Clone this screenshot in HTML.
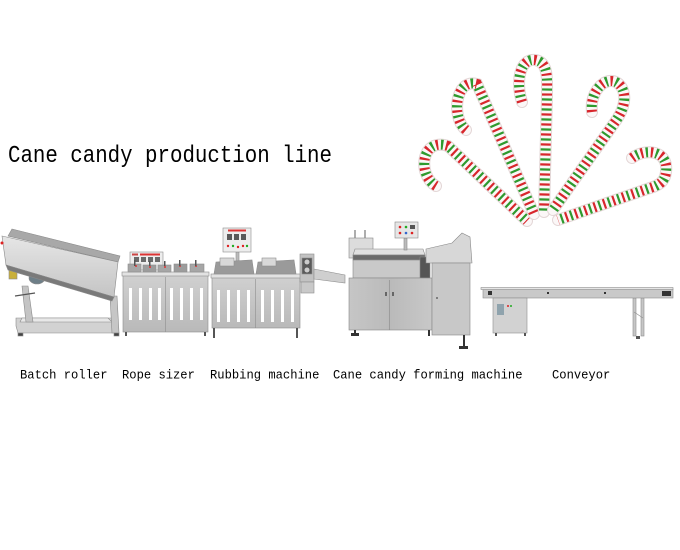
<!DOCTYPE html>
<html><head><meta charset="utf-8"><style>
html,body{margin:0;padding:0;background:#fff;}
body{width:680px;height:550px;position:relative;overflow:hidden;}
svg{position:absolute;left:0;top:0;}
</style></head><body>
<svg width="680" height="550" viewBox="0 0 680 550" xmlns="http://www.w3.org/2000/svg">
<defs>
<linearGradient id="cab" x1="0" y1="0" x2="0" y2="1"><stop offset="0" stop-color="#d0d0d0"/><stop offset="1" stop-color="#b9b9b9"/></linearGradient>
<linearGradient id="cab2" x1="0" y1="0" x2="1" y2="0"><stop offset="0" stop-color="#c6c6c6"/><stop offset="0.5" stop-color="#bababa"/><stop offset="1" stop-color="#c8c8c8"/></linearGradient>
<linearGradient id="trough" x1="0" y1="0" x2="0" y2="1"><stop offset="0" stop-color="#e6e6e6"/><stop offset="1" stop-color="#c4c4c4"/></linearGradient>
</defs>

<!-- Title -->
<text x="8" y="162" font-family="Liberation Mono, monospace" font-size="20.8" textLength="324" lengthAdjust="spacing" transform="translate(0,162) scale(1,1.17) translate(0,-162)" fill="#000">Cane candy production line</text>

<!-- Candy canes -->
<g fill="none" stroke-linecap="round">
  <g>
    <path d="M 436 186 C 417 175, 421 137, 448 146 L 527 221" stroke="#e3d6d6" stroke-width="12"/>
    <path d="M 436 186 C 417 175, 421 137, 448 146 L 527 221" stroke="#fbf7f7" stroke-width="10"/>
    <path d="M 436 186 C 417 175, 421 137, 448 146 L 527 221" stroke="#d8262c" stroke-width="10" stroke-dasharray="2.2 7.8" stroke-linecap="butt"/>
    <path d="M 436 186 C 417 175, 421 137, 448 146 L 527 221" stroke="#2e9a2e" stroke-width="10" stroke-dasharray="2.2 7.8" stroke-dashoffset="5" stroke-linecap="butt"/>
  </g>
  <g>
    <path d="M 466 130 C 451 118, 455 78, 477 84 L 534 214" stroke="#e3d6d6" stroke-width="12"/>
    <path d="M 466 130 C 451 118, 455 78, 477 84 L 534 214" stroke="#fbf7f7" stroke-width="10"/>
    <path d="M 466 130 C 451 118, 455 78, 477 84 L 534 214" stroke="#d8262c" stroke-width="10" stroke-dasharray="2.2 7.8" stroke-linecap="butt"/>
    <path d="M 466 130 C 451 118, 455 78, 477 84 L 534 214" stroke="#2e9a2e" stroke-width="10" stroke-dasharray="2.2 7.8" stroke-dashoffset="5" stroke-linecap="butt"/>
  </g>
  <g>
    <path d="M 522 102 C 515 80, 521 58, 535 60 C 549 62, 547 80, 547 96 L 544 212" stroke="#e3d6d6" stroke-width="12"/>
    <path d="M 522 102 C 515 80, 521 58, 535 60 C 549 62, 547 80, 547 96 L 544 212" stroke="#fbf7f7" stroke-width="10"/>
    <path d="M 522 102 C 515 80, 521 58, 535 60 C 549 62, 547 80, 547 96 L 544 212" stroke="#d8262c" stroke-width="10" stroke-dasharray="2.2 7.8" stroke-linecap="butt"/>
    <path d="M 522 102 C 515 80, 521 58, 535 60 C 549 62, 547 80, 547 96 L 544 212" stroke="#2e9a2e" stroke-width="10" stroke-dasharray="2.2 7.8" stroke-dashoffset="5" stroke-linecap="butt"/>
  </g>
  <g>
    <path d="M 592 112 C 589 87, 612 71, 622 88 C 628 100, 621 114, 615 122 L 553 210" stroke="#e3d6d6" stroke-width="12"/>
    <path d="M 592 112 C 589 87, 612 71, 622 88 C 628 100, 621 114, 615 122 L 553 210" stroke="#fbf7f7" stroke-width="10"/>
    <path d="M 592 112 C 589 87, 612 71, 622 88 C 628 100, 621 114, 615 122 L 553 210" stroke="#d8262c" stroke-width="10" stroke-dasharray="2.2 7.8" stroke-linecap="butt"/>
    <path d="M 592 112 C 589 87, 612 71, 622 88 C 628 100, 621 114, 615 122 L 553 210" stroke="#2e9a2e" stroke-width="10" stroke-dasharray="2.2 7.8" stroke-dashoffset="5" stroke-linecap="butt"/>
  </g>
  <g>
    <path d="M 632 158 C 645 148, 669 150, 666 172 C 665 181, 660 185, 650 188 L 558 220" stroke="#e3d6d6" stroke-width="12"/>
    <path d="M 632 158 C 645 148, 669 150, 666 172 C 665 181, 660 185, 650 188 L 558 220" stroke="#fbf7f7" stroke-width="10"/>
    <path d="M 632 158 C 645 148, 669 150, 666 172 C 665 181, 660 185, 650 188 L 558 220" stroke="#d8262c" stroke-width="10" stroke-dasharray="2.2 7.8" stroke-linecap="butt"/>
    <path d="M 632 158 C 645 148, 669 150, 666 172 C 665 181, 660 185, 650 188 L 558 220" stroke="#2e9a2e" stroke-width="10" stroke-dasharray="2.2 7.8" stroke-dashoffset="5" stroke-linecap="butt"/>
  </g>
</g>

<!-- Batch roller -->
<g stroke="#8a8a8a" stroke-width="0.6">
  <polygon points="16,318 112,318 118,322 118,333 18,333 16,326" fill="#d2d2d2"/>
  <polygon points="22,318 108,318 112,322 20,322" fill="#e8e8e8"/>
  <polygon points="110,296 117,296 119,333 112,333" fill="#c6c6c6"/>
  <polygon points="22,286 28,286 33,322 26,322" fill="#c4c4c4"/>
  <line x1="15" y1="296" x2="35" y2="293" stroke="#555" stroke-width="1.2"/>
  <line x1="8" y1="268" x2="70" y2="284" stroke="#666" stroke-width="2"/>
  <rect x="9" y="267" width="8" height="12" fill="#c9b03a"/>
  <ellipse cx="37" cy="278" rx="8" ry="6" fill="#6e7f88"/>
  <polygon points="12,229 120,256 118,262 8,236" fill="#a8a8a8"/>
  <polygon points="2,236 118,262 114,297 6,265" fill="url(#trough)"/>
  <polygon points="6,265 114,297 112,301 8,270" fill="#7a7a7a"/>
  <rect x="18" y="333" width="5" height="3" fill="#444"/>
  <rect x="114" y="333" width="5" height="3" fill="#444"/>
</g>
<circle cx="2" cy="243" r="1.5" fill="#d22"/>

<!-- Rope sizer -->
<g stroke="#8e8e8e" stroke-width="0.6">
  <rect x="123" y="275" width="85" height="57" fill="url(#cab)"/>
  <line x1="165.5" y1="277" x2="165.5" y2="332"/>
  <rect x="122" y="272" width="87" height="4" fill="#e2e2e2"/>
  <rect x="130" y="252" width="33" height="18" fill="#ededed"/>
  <rect x="128" y="264" width="13" height="8" fill="#a6a6a6"/>
  <rect x="143" y="265" width="13" height="7" fill="#9c9c9c"/>
  <rect x="158" y="265" width="13" height="7" fill="#a6a6a6"/>
  <rect x="174" y="264" width="13" height="8" fill="#9c9c9c"/>
  <rect x="190" y="264" width="14" height="8" fill="#a6a6a6"/>
</g>
<g fill="#fff">
  <rect x="129" y="288" width="3" height="32"/><rect x="139" y="288" width="3" height="32"/>
  <rect x="149" y="288" width="3" height="32"/><rect x="158" y="288" width="3" height="32"/>
  <rect x="170" y="288" width="3" height="32"/><rect x="180" y="288" width="3" height="32"/>
  <rect x="190" y="288" width="3" height="32"/><rect x="200" y="288" width="3" height="32"/>
</g>
<rect x="140" y="253.5" width="20" height="2" fill="#d33"/>
<rect x="132" y="253.5" width="6" height="2" fill="#c44"/>
<g fill="#6a6a6a"><rect x="134" y="257" width="5" height="5"/><rect x="141" y="257" width="5" height="5"/><rect x="148" y="257" width="5" height="5"/><rect x="155" y="257" width="5" height="5"/></g>
<g fill="#d33"><circle cx="136" cy="266" r="1"/><circle cx="150" cy="267" r="1"/><circle cx="165" cy="267" r="1"/><circle cx="180" cy="266" r="1"/><circle cx="196" cy="266" r="1"/></g>
<g fill="#555"><rect x="134" y="260" width="1.5" height="6"/><rect x="149" y="261" width="1.5" height="5"/><rect x="164" y="261" width="1.5" height="5"/><rect x="179" y="260" width="1.5" height="6"/><rect x="195" y="260" width="1.5" height="6"/></g>
<g fill="#555"><rect x="125" y="332" width="2" height="4"/><rect x="204" y="332" width="2" height="4"/></g>

<!-- Rubbing machine -->
<g stroke="#8e8e8e" stroke-width="0.6">
  <rect x="212" y="277" width="88" height="51" fill="url(#cab)"/>
  <line x1="255.5" y1="279" x2="255.5" y2="328"/>
  <rect x="211" y="274" width="90" height="4" fill="#e2e2e2"/>
  <rect x="236" y="252" width="3" height="10" fill="#bbb"/>
  <polygon points="216,262 252,260 254,274 214,274" fill="#9a9a9a"/>
  <rect x="220" y="258" width="14" height="8" fill="#d8d8d8"/>
  <polygon points="258,262 294,260 296,274 256,274" fill="#9a9a9a"/>
  <rect x="262" y="258" width="14" height="8" fill="#d8d8d8"/>
  <rect x="223" y="228" width="28" height="24" fill="#ededed"/>
  <rect x="300" y="254" width="14" height="28" fill="#c2c2c2"/>
  <rect x="302" y="258" width="10" height="16" fill="#5a5a5a"/>
  <polygon points="314,269 345,275 345,283 314,279" fill="#cfcfcf"/>
  <rect x="301" y="282" width="13" height="11" fill="#c9c9c9"/>
</g>
<rect x="228" y="229.5" width="18" height="2" fill="#d33"/>
<g fill="#5a5a5a"><rect x="227" y="234" width="5" height="6"/><rect x="234" y="234" width="5" height="6"/><rect x="241" y="234" width="5" height="6"/></g>
<g><circle cx="228" cy="246" r="1.2" fill="#d22"/><circle cx="233" cy="246" r="1.2" fill="#2a2"/><circle cx="238" cy="247" r="1.2" fill="#d22"/><circle cx="243" cy="246" r="1.2" fill="#d22"/><circle cx="247" cy="246" r="1.2" fill="#2a2"/></g>
<g fill="#ccc"><circle cx="307" cy="262" r="2.5"/><circle cx="307" cy="270" r="2.5"/></g>
<g fill="#fff">
  <rect x="217" y="290" width="3" height="32"/><rect x="227" y="290" width="3" height="32"/>
  <rect x="237" y="290" width="3" height="32"/><rect x="247" y="290" width="3" height="32"/>
  <rect x="261" y="290" width="3" height="32"/><rect x="271" y="290" width="3" height="32"/>
  <rect x="281" y="290" width="3" height="32"/><rect x="291" y="290" width="3" height="32"/>
</g>
<g fill="#555"><rect x="213" y="328" width="2" height="10"/><rect x="296" y="328" width="2" height="10"/></g>

<!-- Cane candy forming machine -->
<g stroke="#888" stroke-width="0.6">
  <line x1="355" y1="230" x2="355" y2="238" stroke="#777" stroke-width="1.2"/>
  <line x1="365" y1="230" x2="365" y2="238" stroke="#777" stroke-width="1.2"/>
  <rect x="349" y="238" width="24" height="20" fill="#dcdcdc"/>
  <polygon points="355,249 423,249 425,255 353,255" fill="#e0e0e0"/>
  <rect x="353" y="255" width="72" height="5" fill="#6a6a6a"/>
  <rect x="353" y="260" width="72" height="18" fill="#c9c9c9"/>
  <rect x="420" y="257" width="10" height="21" fill="#555"/>
  <rect x="404" y="238" width="3" height="12" fill="#bbb"/>
  <rect x="395" y="222" width="23" height="16" fill="#e6e6e6"/>
  <polygon points="426,249 452,243 462,233 470,237 472,263 426,263" fill="#d7d7d7"/>
  <rect x="349" y="278" width="83" height="52" fill="url(#cab2)"/>
  <line x1="389.5" y1="280" x2="389.5" y2="330"/>
  <rect x="432" y="263" width="38" height="72" fill="#c8c8c8"/>
</g>
<g><circle cx="400" cy="227" r="1.3" fill="#d22"/><circle cx="406" cy="227" r="1.3" fill="#2a2"/><circle cx="400" cy="233" r="1.3" fill="#d22"/><circle cx="406" cy="233" r="1.3" fill="#36c"/><rect x="410" y="225" width="5" height="4" fill="#555"/><circle cx="412" cy="233" r="1.3" fill="#d22"/></g>
<g fill="#666"><rect x="385" y="292" width="2" height="4"/><rect x="392" y="292" width="2" height="4"/><circle cx="437" cy="298" r="1"/></g>
<g fill="#333"><rect x="354" y="330" width="2" height="3"/><rect x="351" y="333" width="8" height="3"/><rect x="428" y="330" width="2" height="6"/><rect x="463" y="335" width="2" height="11"/><rect x="459" y="346" width="9" height="3"/></g>

<!-- Conveyor -->
<g stroke="#8e8e8e" stroke-width="0.6">
  <rect x="633" y="298" width="3" height="38" fill="#c6c6c6"/>
  <rect x="641" y="298" width="3" height="38" fill="#c6c6c6"/>
  <line x1="634" y1="312" x2="643" y2="318"/>
  <rect x="483" y="289" width="190" height="9" fill="#c9c9c9"/>
  <rect x="481" y="287.5" width="192" height="2" fill="#e6e6e6"/>
  <rect x="493" y="298" width="34" height="35" fill="#d2d2d2"/>
</g>
<g fill="#333"><rect x="488" y="291" width="4" height="4"/><rect x="662" y="291" width="9" height="5"/><rect x="547" y="292" width="2" height="2"/><rect x="604" y="292" width="2" height="2"/></g>
<rect x="497" y="304" width="7" height="11" fill="#8fa3ad"/>
<circle cx="508" cy="306" r="1" fill="#d22"/><circle cx="511" cy="306" r="1" fill="#2a2"/>
<g fill="#555"><rect x="495" y="333" width="2" height="3"/><rect x="524" y="333" width="2" height="3"/><rect x="636" y="336" width="4" height="3"/></g>

<!-- Labels -->
<g font-family="Liberation Mono, monospace" font-size="12.15" fill="#000" transform="translate(0,378.5) scale(1,1.06) translate(0,-378.5)">
  <text x="20" y="378.5" textLength="87.5" lengthAdjust="spacing">Batch roller</text>
  <text x="122" y="378.5" textLength="72.9" lengthAdjust="spacing">Rope sizer</text>
  <text x="210" y="378.5" textLength="109.4" lengthAdjust="spacing">Rubbing machine</text>
  <text x="333" y="378.5" textLength="189.5" lengthAdjust="spacing">Cane candy forming machine</text>
  <text x="552" y="378.5" textLength="58.3" lengthAdjust="spacing">Conveyor</text>
</g>
</svg>
</body></html>
